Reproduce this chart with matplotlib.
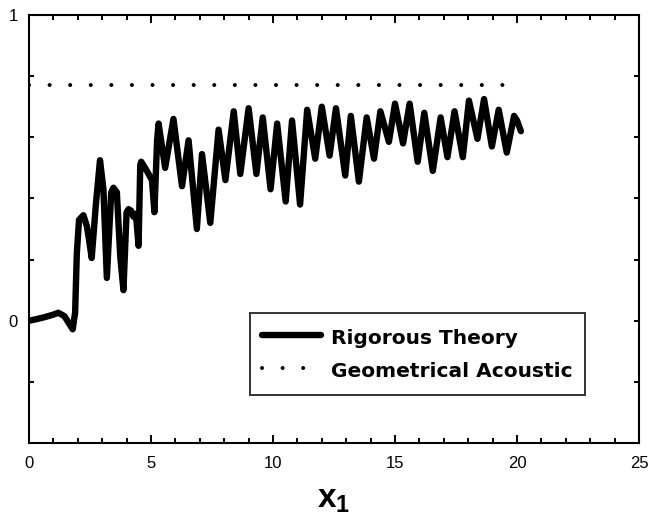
import matplotlib
matplotlib.use("Agg")
import matplotlib.pyplot as plt
from matplotlib.ticker import MultipleLocator, FixedLocator, FixedFormatter

# Rigorous-theory curve (x1, amplitude)
x_rigorous = [0.00, 0.30, 0.66, 1.00, 1.20, 1.45, 1.65, 1.79, 1.89, 1.96, 2.05,
              2.23, 2.37, 2.46, 2.57, 2.74, 2.91, 3.05, 3.19, 3.37, 3.46, 3.60,
              3.74, 3.87, 4.00, 4.08, 4.18, 4.28, 4.38, 4.49, 4.56, 4.60, 4.83,
              5.04, 5.14, 5.25, 5.31, 5.58, 5.92, 6.27, 6.54, 6.88, 7.09, 7.43,
              7.77, 8.05, 8.39, 8.66, 9.00, 9.32, 9.58, 9.90, 10.17, 10.52,
              10.78, 11.11, 11.40, 11.73, 12.00, 12.32, 12.58, 12.96, 13.19,
              13.52, 13.84, 14.14, 14.40, 14.75, 15.00, 15.33, 15.60, 15.93,
              16.20, 16.55, 16.87, 17.15, 17.44, 17.78, 18.03, 18.38, 18.65,
              18.97, 19.25, 19.58, 19.88, 20.00, 20.16]
y_rigorous = [0.000, 0.005, 0.012, 0.020, 0.026, 0.015, -0.010, -0.028, 0.026,
              0.220, 0.330, 0.345, 0.310, 0.265, 0.205, 0.380, 0.525, 0.430,
              0.140, 0.420, 0.435, 0.420, 0.210, 0.100, 0.355, 0.365, 0.360,
              0.340, 0.350, 0.245, 0.510, 0.520, 0.490, 0.460, 0.355, 0.590,
              0.645, 0.500, 0.660, 0.440, 0.590, 0.300, 0.545, 0.320, 0.625,
              0.460, 0.685, 0.480, 0.695, 0.480, 0.665, 0.430, 0.645, 0.390,
              0.655, 0.380, 0.690, 0.530, 0.700, 0.540, 0.695, 0.475, 0.670,
              0.455, 0.665, 0.530, 0.685, 0.585, 0.710, 0.580, 0.710, 0.520,
              0.680, 0.490, 0.665, 0.535, 0.685, 0.535, 0.720, 0.595, 0.725,
              0.570, 0.690, 0.550, 0.670, 0.655, 0.620]

# Geometrical-acoustics level
x_geom = [0.0, 20.0]
y_geom = [0.77, 0.77]

x_ticks = [0, 5, 10, 15, 20, 25]
y_ticks = [-0.4, -0.2, 0.0, 0.2, 0.4, 0.6, 0.8, 1.0]
y_ticklabels = ["", "", "0", "", "", "", "", "1"]

W, H = 651, 520
fig = plt.figure(figsize=(W / 100, H / 100), dpi=100)
ax = fig.add_axes([29 / W, 1 - 443 / H, (639 - 29) / W, (443 - 15) / H])

ax.plot(x_rigorous, y_rigorous, color="black", lw=4.6,
        solid_joinstyle="round", solid_capstyle="round",
        label="Rigorous Theory")
ax.plot(x_geom, y_geom, color="black", lw=2.9,
        linestyle=(0, (0.01, 5.1)), dash_capstyle="round",
        label="Geometrical Acoustic")

ax.set_xlim(0, 25)
ax.set_ylim(-0.4, 1.0)

ax.xaxis.set_major_locator(FixedLocator(x_ticks))
ax.xaxis.set_minor_locator(MultipleLocator(1))
ax.yaxis.set_major_locator(FixedLocator(y_ticks))
ax.yaxis.set_major_formatter(FixedFormatter(y_ticklabels))

ax.tick_params(axis="both", which="both", direction="in",
               top=True, right=True, width=1.4, colors="black")
ax.tick_params(axis="x", which="major", length=6, pad=9)
ax.tick_params(axis="x", which="minor", length=3.5)
ax.tick_params(axis="y", which="major", length=3.8, pad=8)
for lab in ax.get_xticklabels() + ax.get_yticklabels():
    lab.set_fontfamily("Liberation Sans")
    lab.set_fontsize(12)

for sp in ax.spines.values():
    sp.set_linewidth(1.5)

ax.set_xlabel(r"$\mathregular{x_1}$", fontsize=24, fontfamily="Liberation Sans",
              fontweight="bold", labelpad=10)

leg = ax.legend(loc="upper left", bbox_to_anchor=(250 / W, 1 - 313 / H),
                bbox_transform=fig.transFigure,
                prop={"family": "DejaVu Sans", "weight": "bold", "size": 14.5},
                frameon=True, fancybox=False, shadow=False,
                borderpad=0.62, handlelength=2.9, handleheight=1.45,
                handletextpad=0.5, labelspacing=0.45, borderaxespad=0)
leg.get_frame().set_edgecolor("black")
leg.get_frame().set_linewidth(1.4)

fig.savefig("out.png", dpi=100)
